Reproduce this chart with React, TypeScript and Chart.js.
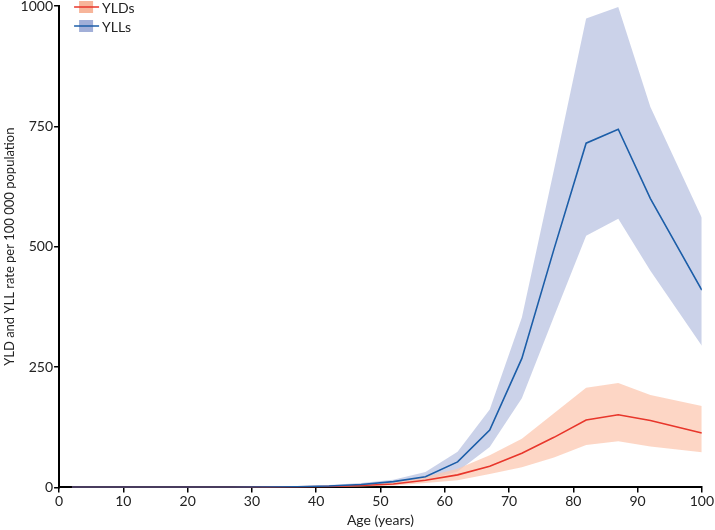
import React, { useEffect, useRef } from "react";
import { Chart, registerables } from "chart.js";

Chart.register(...registerables);

const ages = [2, 7, 12, 17, 22, 27, 32, 37, 42, 47, 52, 57, 62, 67, 72, 77, 82, 87, 92, 100];

const yldMean = [0, 0, 0, 0, 0, 0.2, 0.5, 1, 2, 4, 7, 15, 26, 44, 71, 104, 140, 151, 139, 113];
const yldUpper = [0, 0, 0, 0, 0, 0.3, 0.7, 1.5, 3, 5, 10, 22, 39, 67, 101, 154, 207, 217, 192, 169];
const yldLower = [0, 0, 0, 0, 0, 0.1, 0.3, 0.6, 1, 2, 4, 9, 15, 28, 42, 62, 88, 96, 85, 73];

const yllMean = [0, 0, 0, 0, 0, 0.3, 0.7, 1.5, 3, 6, 12, 22, 53, 119, 268, 495, 715, 744, 600, 410];
const yllUpper = [0, 0, 0, 0, 0, 0.5, 1, 2.5, 5, 9, 16, 32, 74, 162, 353, 660, 974, 998, 790, 560];
const yllLower = [0, 0, 0, 0, 0, 0.1, 0.4, 0.8, 2, 4, 9, 15, 33, 84, 185, 355, 523, 558, 450, 294];

const xTicks = [0, 10, 20, 30, 40, 50, 60, 70, 80, 90, 100];
const yTicks = [0, 250, 500, 750, 1000];

const legendLabels = ["YLDs", "YLLs"];

const FONT = "Lato, 'Open Sans', sans-serif";
const RED = "#e8362b";
const RED_BAND = "rgba(252, 200, 178, 0.75)";
const RED_BOX = "#f7b59a";
const BLUE = "#1c5ea8";
const BLUE_BAND = "rgba(183, 193, 224, 0.72)";
const BLUE_BOX = "#a2afd8";

const pts = (vals: number[]) => ages.map((a, i) => ({ x: a, y: vals[i] }));

const legendPlugin = {
  id: "customLegend",
  afterDraw(chart: any) {
    const { ctx, chartArea } = chart;
    const items = [
      { label: legendLabels[0], box: RED_BOX, line: RED },
      { label: legendLabels[1], box: BLUE_BOX, line: BLUE },
    ];
    ctx.save();
    items.forEach((it, i) => {
      const cy = chartArea.top + 1 + i * 19;
      const x0 = chartArea.left + 15;
      ctx.fillStyle = it.box;
      ctx.fillRect(x0 + 5, cy - 6, 14, 12);
      ctx.strokeStyle = it.line;
      ctx.lineWidth = 1.5;
      ctx.beginPath();
      ctx.moveTo(x0, cy);
      ctx.lineTo(x0 + 25, cy);
      ctx.stroke();
      ctx.fillStyle = "#222";
      ctx.font = `14px ${FONT}`;
      ctx.textBaseline = "middle";
      ctx.textAlign = "left";
      ctx.fillText(it.label, x0 + 28, cy + 1);
    });
    ctx.restore();
  },
};

export default function App() {
  const ref = useRef<HTMLCanvasElement>(null);
  useEffect(() => {
    if (!ref.current) return;
    const chart = new Chart(ref.current, {
      type: "line",
      data: {
        datasets: [
          { label: "YLLs", data: pts(yllMean), borderColor: BLUE, borderWidth: 1.6, pointRadius: 0, fill: false, tension: 0 },
          { label: "YLDs", data: pts(yldMean), borderColor: RED, borderWidth: 1.6, pointRadius: 0, fill: false, tension: 0 },
          { label: "YLD upper", data: pts(yldUpper), borderWidth: 0, borderColor: "transparent", backgroundColor: RED_BAND, pointRadius: 0, fill: "+1" },
          { label: "YLD lower", data: pts(yldLower), borderWidth: 0, borderColor: "transparent", pointRadius: 0, fill: false },
          { label: "YLL upper", data: pts(yllUpper), borderWidth: 0, borderColor: "transparent", backgroundColor: BLUE_BAND, pointRadius: 0, fill: "+1" },
          { label: "YLL lower", data: pts(yllLower), borderWidth: 0, borderColor: "transparent", pointRadius: 0, fill: false },
        ],
      },
      options: {
        animation: false,
        responsive: true,
        maintainAspectRatio: false,
        layout: { padding: { top: 0, right: 0, left: 0, bottom: 0 } },
        plugins: { legend: { display: false }, tooltip: { enabled: false } },
        scales: {
          x: {
            type: "linear",
            min: 0,
            max: 100,
            afterBuildTicks: (s: any) => { s.ticks = xTicks.map((v) => ({ value: v })); },
            ticks: { color: "#222", font: { family: FONT, size: 14 }, padding: 1, maxRotation: 0, callback: (v: any) => String(v) },
            grid: { drawOnChartArea: false, drawTicks: true, tickLength: 5, color: "#000", lineWidth: 1.5 },
            border: { color: "#000", width: 2 },
            title: { display: true, text: "Age (years)", color: "#222", font: { family: FONT, size: 14 }, padding: { top: 1, bottom: 1 } },
          },
          y: {
            type: "linear",
            min: 0,
            max: 1000,
            afterBuildTicks: (s: any) => { s.ticks = yTicks.map((v) => ({ value: v })); },
            afterFit: (s: any) => { s.paddingTop = 6; },
            ticks: { color: "#222", font: { family: FONT, size: 14 }, padding: 1, callback: (v: any) => String(v) },
            grid: { drawOnChartArea: false, drawTicks: true, tickLength: 5, color: "#000", lineWidth: 1.5 },
            border: { color: "#000", width: 2 },
            title: { display: true, text: "YLD and YLL rate per 100 000 population", color: "#222", font: { family: FONT, size: 13 }, padding: { top: 2, bottom: 2 } },
          },
        },
      },
      plugins: [legendPlugin],
    });
    return () => chart.destroy();
  }, []);
  return (
    <div style={{ position: "fixed", left: 0, top: 0, width: 715, height: 530, background: "#fff" }}>
      <canvas ref={ref} />
    </div>
  );
}
